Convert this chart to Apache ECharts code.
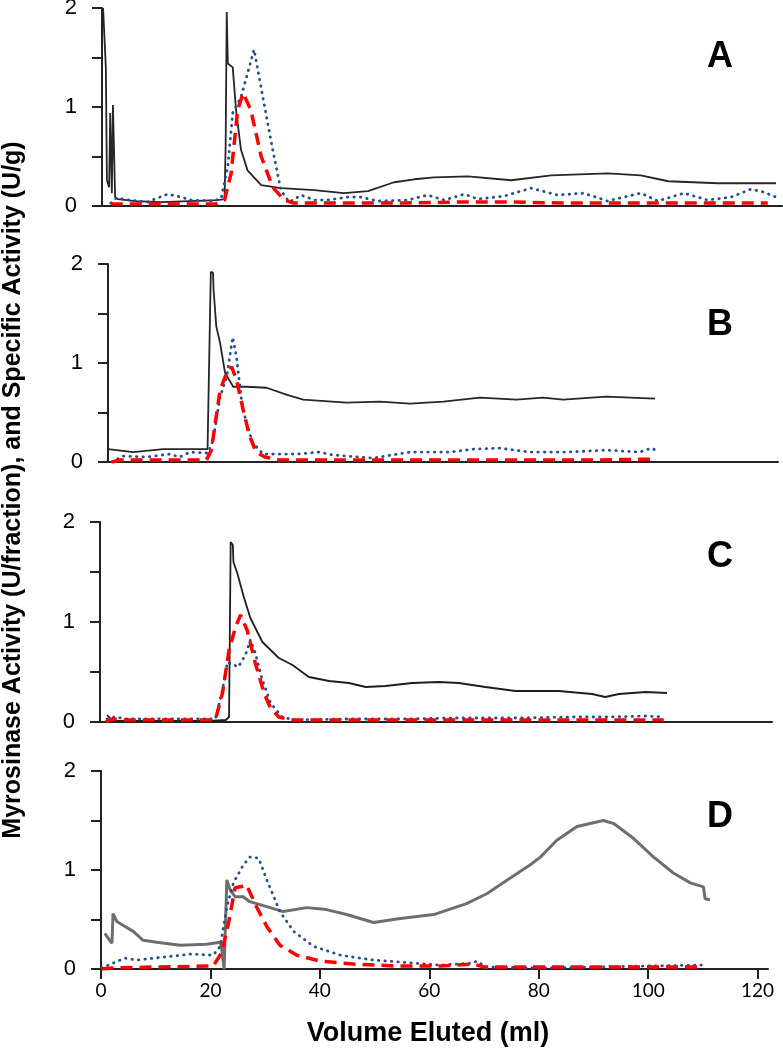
<!DOCTYPE html>
<html>
<head>
<meta charset="utf-8">
<script src="https://cdn.jsdelivr.net/npm/echarts@6/dist/echarts.min.js"></script>
<style>
html,body{margin:0;padding:0;background:#fff;}
#chart{width:783px;height:1050px;}
</style>
</head>
<body>
<div id="chart"></div>
<script>
// ---- Data ----
const panelLetters = ['A', 'B', 'C', 'D'];
const xTickValues = [0, 20, 40, 60, 80, 100, 120];
const yTickLabels = [0, 1, 2];

// Panel A
const A_solid_x = [0.2,0.4,0.7,0.9,1.3,1.5,1.8,2.0,2.2,2.4,2.9,6,10.8,16,21.1,22.4,22.6,22.8,23.0,23.9,24.5,25.4,26.6,29.1,32.7,38.8,44.2,48.6,53.4,57.1,60.7,66.9,74.8,82.1,92.5,98.5,103.5,112.6,123.2];
const A_solid_y = [2.0,1.98,1.40,0.26,0.19,0.94,0.13,1.02,1.0,0.09,0.07,0.05,0.04,0.05,0.06,0.07,0.6,1.96,1.44,1.40,0.97,0.57,0.36,0.21,0.18,0.16,0.13,0.15,0.24,0.27,0.29,0.30,0.26,0.31,0.33,0.31,0.25,0.23,0.23];
const A_blue_x = [1.6,2.6,5,8.3,12,14.4,16.3,20.5,21.8,23,23.9,25.4,27.8,29.4,31.2,32.7,34.2,36.4,38.8,41.2,44.9,47.3,50.4,55.9,59.5,62.6,66.2,68.7,73.5,78.4,83.3,88.1,92.4,98.5,101.6,106.4,110.7,115,118.6,121,123.2];
const A_blue_y = [0.03,0.08,0.06,0.04,0.12,0.09,0.06,0.05,0.08,0.40,0.94,1.10,1.58,1.10,0.57,0.16,0.04,0.11,0.06,0.06,0.09,0.09,0.05,0.06,0.11,0.06,0.12,0.07,0.10,0.18,0.11,0.13,0.05,0.13,0.05,0.13,0.06,0.09,0.17,0.14,0.09];
const A_red_x = [1.6,5,10,15,21.1,22.4,23.6,24.8,25.8,27.2,29.1,31.2,33.3,35,45,55,65,75,85,95,105,115,121.7];
const A_red_y = [0.02,0.02,0.02,0.02,0.02,0.06,0.33,0.97,1.14,0.97,0.50,0.19,0.06,0.03,0.03,0.03,0.04,0.04,0.03,0.03,0.03,0.03,0.03];

// Panel B
const B_solid_x = [1.3,5.9,11.4,16.3,19.5,20.1,20.5,20.6,21.1,21.8,22.7,24.2,26.6,30.3,33.9,37.0,44.9,51,56.5,62.6,69.3,76,80.8,84.5,92.4,101.3];
const B_solid_y = [0.13,0.10,0.13,0.13,0.13,1.92,1.91,1.74,1.37,1.20,0.90,0.76,0.76,0.75,0.68,0.63,0.60,0.61,0.59,0.61,0.65,0.63,0.65,0.63,0.66,0.64];
const B_blue_x = [2.0,4.1,8.3,12.6,14.4,16.3,19.6,20.5,21.8,23,24.1,24.8,25.7,26.6,27.8,29.7,35.8,40,42.5,49.8,56.5,63.8,68.1,72.9,78.4,85.1,92.4,98.5,100.7,101.7];
const B_blue_y = [0.00,0.06,0.05,0.08,0.05,0.10,0.09,0.22,0.66,0.86,1.26,1.06,0.63,0.39,0.19,0.08,0.08,0.10,0.07,0.04,0.10,0.10,0.13,0.14,0.10,0.10,0.12,0.10,0.14,0.11];
const B_red_x = [2.0,3.5,10,19.3,20.2,21.8,23,23.9,24.8,26,27.2,28.4,30,32.7,50,70,90,101.6];
const B_red_y = [0.0,0.02,0.02,0.02,0.12,0.73,0.90,0.96,0.83,0.53,0.26,0.10,0.05,0.02,0.02,0.02,0.02,0.03];

// Panel C
const C_solid_x = [1.3,2.0,2.9,10,20,23,23.6,23.9,24.3,24.4,25.1,26.3,27.5,29.7,32.7,35.2,38.2,41.9,45.5,48.6,52.2,57.1,62,65.6,70.5,76,83.9,90,92.4,94.9,99.8,103.7];
const C_solid_y = [0.07,0.03,0.01,0.01,0.01,0.02,0.05,1.80,1.77,1.60,1.49,1.25,1.04,0.80,0.64,0.57,0.45,0.41,0.39,0.35,0.36,0.39,0.40,0.39,0.35,0.31,0.31,0.28,0.25,0.28,0.30,0.29];
const C_blue_x = [1.3,2.6,4.9,10,15,21.1,22.4,23.3,25.3,26.6,27.5,28.4,29.7,31.2,33.3,35.5,45,55,65,76,86.5,93,99.8,103.1];
const C_blue_y = [0.03,0.05,0.03,0.03,0.03,0.03,0.32,0.60,0.55,0.67,0.82,0.69,0.42,0.19,0.05,0.02,0.03,0.03,0.04,0.04,0.05,0.05,0.06,0.05];
const C_red_x = [1.0,2.2,5,15,21.1,22.4,23.6,24.8,25.7,26.9,28.4,30.0,31.2,32.7,35,50,70,90,103.1];
const C_red_y = [0.0,0.03,0.02,0.02,0.02,0.29,0.72,0.95,1.07,0.92,0.59,0.29,0.14,0.05,0.02,0.02,0.02,0.02,0.02];

// Panel D
const D_solid_x = [0.7,1.6,2.0,2.2,2.9,3.5,4.1,5.9,7.7,10.2,14.4,19.3,21.8,22.0,22.5,23.0,23.6,24.5,26.0,27.2,30.3,33.3,37.6,41.2,44.9,49.8,54.7,60.8,66.8,70.5,74.8,78.4,80.3,83.3,87,91.8,93.7,97.3,101,104.6,107.7,110.1,110.4,111.3];
const D_solid_y = [0.36,0.29,0.26,0.56,0.48,0.46,0.44,0.38,0.29,0.27,0.24,0.25,0.27,0.23,0.0,0.90,0.80,0.73,0.73,0.68,0.63,0.58,0.62,0.60,0.55,0.47,0.51,0.55,0.66,0.76,0.92,1.05,1.13,1.30,1.44,1.50,1.47,1.32,1.13,0.97,0.87,0.83,0.71,0.70];
const D_blue_x = [0.1,2.2,4.4,6.5,11.4,16.3,20.5,21.8,23,24.2,26,27.2,28.8,30.3,32.7,35.2,38.8,43.7,49.8,57.1,62,68.1,68.6,70.5,80,90,100,110.1];
const D_blue_y = [0.01,0.06,0.11,0.09,0.12,0.15,0.14,0.23,0.63,0.87,1.05,1.13,1.12,0.90,0.58,0.38,0.23,0.14,0.09,0.06,0.04,0.06,0.08,0.02,0.01,0.02,0.03,0.04];
const D_red_x = [0.1,2,10,20.5,22,23.3,24.5,25.5,26.6,28.4,30.3,32.7,35.8,40,46.1,54,62,68.1,70,80,90,100,110.1];
const D_red_y = [0.0,0.01,0.02,0.03,0.16,0.46,0.82,0.83,0.85,0.63,0.43,0.24,0.14,0.08,0.05,0.03,0.03,0.05,0.02,0.02,0.02,0.02,0.02];

// ---- Layout ----
const panels = [
  {left:102, top:8,   width:680, height:198, xmin:0,   xmax:124.3, solid:[A_solid_x,A_solid_y], blue:[A_blue_x,A_blue_y], red:[A_red_x,A_red_y], solidColor:'#262626', solidWidth:1.8, letterY:57},
  {left:108, top:264, width:670, height:198, xmin:1.3, xmax:123.8, solid:[B_solid_x,B_solid_y], blue:[B_blue_x,B_blue_y], red:[B_red_x,B_red_y], solidColor:'#262626', solidWidth:1.8, letterY:325},
  {left:100, top:522, width:672, height:200, xmin:0,   xmax:122.9, solid:[C_solid_x,C_solid_y], blue:[C_blue_x,C_blue_y], red:[C_red_x,C_red_y], solidColor:'#1e1e1e', solidWidth:1.8, letterY:557},
  {left:101, top:771, width:667, height:198, xmin:0,   xmax:121.9, solid:[D_solid_x,D_solid_y], blue:[D_blue_x,D_blue_y], red:[D_red_x,D_red_y], solidColor:'#6e6e6e', solidWidth:3,   letterY:817}
];

function zip(xs, ys) { return xs.map((x, i) => [x, ys[i]]); }

const grids = [], xAxes = [], yAxes = [], series = [], graphics = [];
panels.forEach((p, i) => {
  const last = i === panels.length - 1;
  grids.push({left:p.left, top:p.top, width:p.width, height:p.height, outerBoundsMode:'none', containLabel:false});
  xAxes.push({
    type:'value', gridIndex:i, min:p.xmin, max:p.xmax,
    axisLine:{show:true, onZero:false, lineStyle:{color:'#222', width:2}},
    axisTick:{show:last, customValues:xTickValues, length:10, lineStyle:{color:'#222', width:2}},
    axisLabel:{show:last, customValues:xTickValues, fontSize:19, fontFamily:'Lato, "Open Sans", sans-serif', color:'#000', margin:12},
    splitLine:{show:false}
  });
  yAxes.push({
    type:'value', gridIndex:i, min:0, max:2, interval:0.5,
    axisLine:{show:true, lineStyle:{color:'#222', width:2}},
    axisTick:{show:true, length:10, lineStyle:{color:'#222', width:2}},
    axisLabel:{fontSize:22, fontFamily:'"Liberation Sans", Arial, sans-serif', color:'#000', margin:25,
      formatter: v => (yTickLabels.indexOf(v) >= 0 ? String(v) : '')},
    splitLine:{show:false}
  });
  series.push({
    type:'line', xAxisIndex:i, yAxisIndex:i, data:zip(p.solid[0], p.solid[1]), symbol:'none',
    lineStyle:{color:p.solidColor, width:p.solidWidth}, z:3
  });
  series.push({
    type:'line', xAxisIndex:i, yAxisIndex:i, data:zip(p.blue[0], p.blue[1]), symbol:'none',
    lineStyle:{color:'#24508f', width:2.8, type:[0.5, 6], cap:'round'}, z:4
  });
  series.push({
    type:'line', xAxisIndex:i, yAxisIndex:i, data:zip(p.red[0], p.red[1]), symbol:'none',
    lineStyle:{color:'#ff0000', width:3.5, type:[12, 7]}, z:5
  });
  graphics.push({
    type:'text', x:720, y:p.letterY,
    style:{text:panelLetters[i], fontSize:36, fontWeight:'bold', fontFamily:'"Liberation Sans", Arial, sans-serif', fill:'#000', textAlign:'center', textVerticalAlign:'middle'}
  });
});

graphics.push({
  type:'text', x:428, y:1034,
  style:{text:'Volume Eluted (ml)', fontSize:27, fontWeight:'bold', fontFamily:'"Liberation Sans", Arial, sans-serif', fill:'#000', textAlign:'center', textVerticalAlign:'middle'}
});
graphics.push({
  type:'text', x:13, y:490, rotation:Math.PI/2,
  style:{text:'Myrosinase Activity (U/fraction), and Specific Activity (U/g)', fontSize:25, fontWeight:'bold', fontFamily:'"Liberation Sans", Arial, sans-serif', fill:'#000', textAlign:'center', textVerticalAlign:'middle'}
});

const chart = echarts.init(document.getElementById('chart'), null, {renderer:'canvas'});
chart.setOption({
  animation:false,
  backgroundColor:'#fff',
  grid:grids, xAxis:xAxes, yAxis:yAxes, series:series, graphic:graphics
});
</script>
</body>
</html>
